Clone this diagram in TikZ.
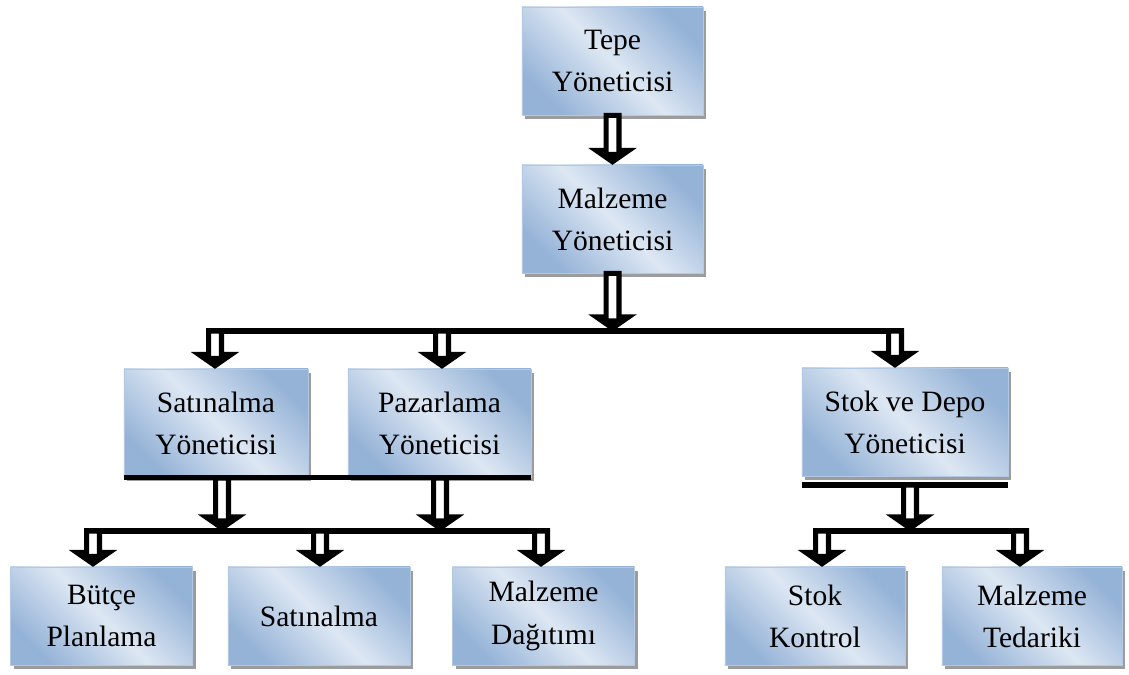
\documentclass[tikz,border=0pt]{standalone}
\usepackage{fontspec}
\setmainfont{Liberation Serif}
\definecolor{boxdark}{HTML}{95B3D7}
\definecolor{boxlight}{HTML}{DDE7F3}
\definecolor{boxedge}{HTML}{B3C9E3}
\definecolor{shadowgray}{HTML}{9C9C9C}
\usetikzlibrary{calc,shadows}
\tikzset{
  unit_box/.style={draw=boxedge,line width=0.6pt,
    top color=boxdark,bottom color=boxdark,middle color=boxlight,shading angle=-45,
    drop shadow={shadow xshift=2.2pt,shadow yshift=-2.6pt,fill=shadowgray,opacity=1},
    minimum width=4.55cm,minimum height=2.7cm,inner sep=0pt,align=center,
    font=\fontsize{21}{30}\selectfont},
  low_box/.style={unit_box,minimum height=2.45cm},
  bar_line/.style={draw=black,line width=3.9pt},
  blk_arr/.style={draw=black,fill=white,line width=3.6pt,line join=miter},
}
% hollow block arrow, x taken from the start, tip at the end
\newcommand{\hollowarrow}[2]{%
  \draw[blk_arr] let \p1=(#1), \p2=(#2) in
    (\x1-4.6pt,\y1) -- (\x1-4.6pt,\y2+10pt) -- (\x1-11.5pt,\y2+10pt) -- (\x1,\y2+2pt)
    -- (\x1+11.5pt,\y2+10pt) -- (\x1+4.6pt,\y2+10pt) -- (\x1+4.6pt,\y1) -- cycle;
  \fill let \p1=(#1), \p2=(#2) in
    (\x1-10pt,\y2+9pt) -- (\x1,\y2+2pt) -- (\x1+10pt,\y2+9pt) -- cycle;}

\begin{document}
\begin{tikzpicture}[x=0.025cm,y=-0.025cm]
  \useasboundingbox (0,0) rectangle (1129,675);

  % boxes
  \node[unit_box,minimum width=4.525cm] (top) at (612.5,61) {Tepe\\Yöneticisi};
  \node[unit_box,minimum width=4.525cm] (mgr) at (612.5,219) {Malzeme\\Yöneticisi};
  \node[unit_box,minimum width=4.6cm] (sat) at (216,423) {Satınalma\\Yöneticisi};
  \node[unit_box,minimum width=4.575cm] (paz) at (439.5,423) {Pazarlama\\Yöneticisi};
  \node[unit_box,minimum width=5.15cm] (stok) at (905,422) {Stok ve Depo\\Yöneticisi};
  \node[low_box] (butce) at (101.5,616) {Bütçe\\Planlama};
  \node[low_box] (satin) at (319,616) {Satınalma};
  \node[low_box] (dag) at (543.5,616) {Malzeme\\Dağıtımı};
  \node[low_box,minimum width=4.5cm] (kon) at (815,616) {Stok\\Kontrol};
  \node[low_box,minimum width=4.5cm] (ted) at (1032,616) {Malzeme\\Tedariki};

  % joints on the lines
  \coordinate (h1l) at (206,331);  \coordinate (h1r) at (904,331);
  \coordinate (j1) at (611,331);
  \coordinate (a1) at (215,331);   \coordinate (a2) at (442,331);  \coordinate (a3) at (895,331);
  \coordinate (b1) at (222,478);   \coordinate (b2) at (440,478);
  \coordinate (h2l) at (84,531);   \coordinate (h2r) at (550,531);
  \coordinate (c1) at (93,531);    \coordinate (c2) at (320,531);  \coordinate (c3) at (541,531);
  \coordinate (sb) at (910,485);
  \coordinate (h3l) at (813,531);  \coordinate (h3r) at (1029,531);
  \coordinate (d1) at (822,531);   \coordinate (d2) at (1020,531);

  % lines and bars
  \draw[bar_line] (h1l) -- (h1r);
  \draw[bar_line] (h2l) -- (h2r);
  \draw[bar_line] (h3l) -- (h3r);
  \draw[bar_line] (sat.south west) -- (paz.south east);
  \draw[bar_line] ([yshift=-0.22cm]stok.south west) -- ([yshift=-0.22cm]stok.south east);

  % arrows
  \hollowarrow{top.south}{mgr.north}
  \hollowarrow{mgr.south}{j1}
  \hollowarrow{a1}{sat.north} \hollowarrow{a2}{paz.north} \hollowarrow{a3}{stok.north}
  \hollowarrow{b1}{h2l} \hollowarrow{b2}{h2l}
  \hollowarrow{c1}{butce.north} \hollowarrow{c2}{satin.north} \hollowarrow{c3}{dag.north}
  \hollowarrow{sb}{h3l}
  \hollowarrow{d1}{kon.north} \hollowarrow{d2}{ted.north}
\end{tikzpicture}
\end{document}
